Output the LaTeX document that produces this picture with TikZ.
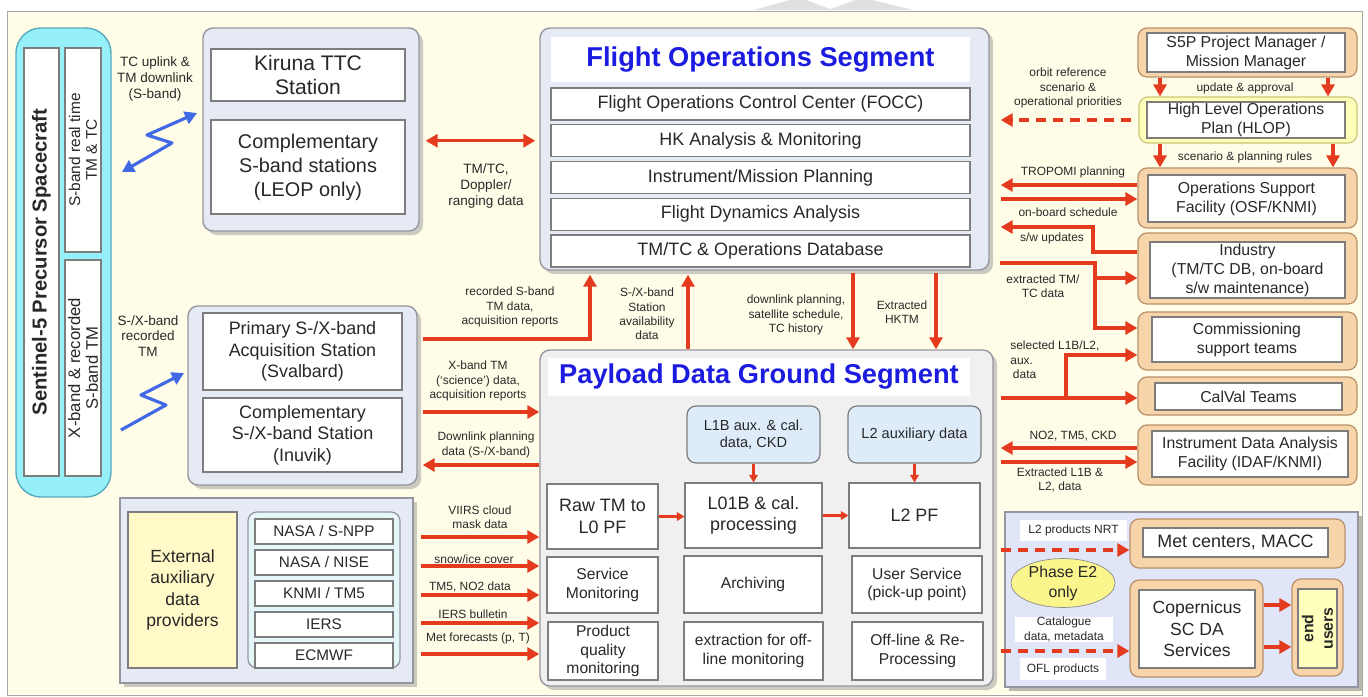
\documentclass[tikz,border=0pt]{standalone}
\usepackage{fontspec}
\setmainfont{Liberation Sans}
\usetikzlibrary{arrows.meta,positioning,shapes.geometric,shadows}

\definecolor{cream}{RGB}{255,253,232}
\definecolor{redc}{RGB}{228,58,30}
\definecolor{zapblue}{RGB}{65,105,230}
\definecolor{ttlblue}{RGB}{28,28,224}
\definecolor{txt}{RGB}{40,40,40}
\definecolor{grpfill}{RGB}{230,234,245}
\definecolor{grpline}{RGB}{150,150,160}
\definecolor{cellline}{RGB}{125,125,125}
\definecolor{pdfill}{RGB}{240,240,240}
\definecolor{tanfill}{RGB}{247,212,170}
\definecolor{tanline}{RGB}{185,145,105}
\definecolor{hlfill}{RGB}{255,255,185}
\definecolor{hlline}{RGB}{200,200,120}
\definecolor{scfill}{RGB}{150,240,250}
\definecolor{scline}{RGB}{90,170,190}
\definecolor{auxfill}{RGB}{222,236,250}
\definecolor{provfill}{RGB}{228,246,248}
\definecolor{extfill}{RGB}{255,250,200}
\definecolor{e2fill}{RGB}{224,230,248}
\definecolor{ellfill}{RGB}{250,245,140}
\definecolor{endfill}{RGB}{255,255,190}

\begin{document}
\begin{tikzpicture}[x=0.2mm,y=-0.2mm,>={Triangle[length=2.4mm,width=2.6mm]},
    sz/.style 2 args={minimum width=#1*0.2mm,minimum height=#2*0.2mm}]
  \tikzstyle{grp}=[draw=grpline,fill=grpfill,line width=0.8pt,rounded corners=2mm,inner sep=0pt,
    drop shadow={shadow xshift=0.8mm,shadow yshift=-0.8mm,fill=black!40,opacity=0.5}]
  \tikzstyle{cell}=[draw=cellline,fill=white,line width=0.7pt,inner sep=0pt,align=center,text=txt]
  \tikzstyle{tanbox}=[draw=tanline,fill=tanfill,line width=0.7pt,rounded corners=1.8mm,inner sep=0pt]
  \tikzstyle{ttl}=[fill=white,inner sep=0pt,text=ttlblue,font=\fontsize{15.5}{18}\selectfont\bfseries]
  \tikzstyle{row}=[cell,sz={419}{32},font=\fontsize{10.2}{12}\selectfont]
  \tikzstyle{prow}=[cell,sz={138}{25},font=\fontsize{8.7}{10}\selectfont]
  \tikzstyle{rbox}=[cell,font=\fontsize{9}{10.8}\selectfont]
  \tikzstyle{bigproc}=[cell,sz={134}{65},font=\fontsize{10.2}{12.3}\selectfont]
  \tikzstyle{proc}=[cell,font=\fontsize{8.9}{10.6}\selectfont]
  \tikzstyle{lbl}=[align=center,text=txt,inner sep=0pt,font=\fontsize{6.8}{8.2}\selectfont]
  \tikzstyle{lblm}=[lbl,font=\fontsize{7.7}{9}\selectfont]
  \tikzstyle{arr}=[draw=redc,line width=1.8pt,->]
  \tikzstyle{sarr}=[draw=redc,line width=1.4pt,-{Triangle[length=1.5mm,width=1.7mm]}]
  \tikzstyle{darr}=[arr,dash pattern=on 2mm off 1.4mm]
  \tikzstyle{zap}=[draw=zapblue,line width=1.8pt,line join=round]
  \useasboundingbox (0,0) rectangle (1368,696);
  % frame and the grey mark above it
  \fill[black!12] (754,10) -- (790,0) -- (872,0) -- (913,10) -- cycle;
  \fill[white] (806,0) -- (830,9) -- (855,0) -- cycle;
  \draw[black!35,fill=cream] (7,11) rectangle (1362,695);

  % spacecraft
  \node[draw=scline,fill=scfill,line width=0.8pt,rounded corners=5mm,sz={95}{469}] (sc) at (63.5,262.5) {};
  \node[cell,rotate=90,sz={428}{35},font=\fontsize{11.5}{13}\selectfont\bfseries] (scname) at (41.5,262) {Sentinel-5 Precursor Spacecraft};
  \node[cell,rotate=90,sz={204}{36},font=\fontsize{8.8}{9.6}\selectfont] (scs) at (83,150) {S-band real time\\TM \& TC};
  \node[cell,rotate=90,sz={216}{36},font=\fontsize{9.5}{10}\selectfont] (scx) at (83,368) {X-band \& recorded\\S-band TM};

  % TTC stations
  \node[grp,sz={216}{203}] (kgrp) at (311,129.5) {};
  \node[cell,sz={194}{52},font=\fontsize{12}{14}\selectfont] (kiruna) at (308,75) {Kiruna TTC\\Station};
  \node[cell,sz={194}{94},font=\fontsize{11.3}{13.6}\selectfont] (comps) at (308,167) {Complementary\\S-band stations\\(LEOP only)};
  \coordinate (z1a) at (122,172);
  \coordinate (z1b) at (197,113);
  \draw[zap,<->] (z1a) -- (172,143) -- (147,135) -- (z1b);
  \node[lblm] (uplnk) at (155,79) {TC uplink \&\\TM downlink\\(S-band)};

  % acquisition stations
  \node[grp,sz={229}{179}] (sgrp) at (302.5,395.5) {};
  \node[cell,sz={199}{77},font=\fontsize{10.2}{12.2}\selectfont] (sval) at (302.5,351.5) {Primary S-/X-band\\Acquisition Station\\(Svalbard)};
  \node[cell,sz={199}{74},font=\fontsize{10.2}{12.2}\selectfont] (inuv) at (302.5,435) {Complementary\\S-/X-band Station\\(Inuvik)};
  \coordinate (z2a) at (121,430);
  \coordinate (z2b) at (184,373);
  \draw[zap,->] (z2a) -- (166,405) -- (141,395) -- (z2b);
  \node[lblm] (rectm) at (148,336) {S-/X-band\\recorded\\TM};

  % flight operations segment
  \node[grp,sz={449}{242}] (fos) at (764.5,149) {};
  \node[ttl,sz={419}{45}] (fostt) at (760.5,59.5) {Flight Operations Segment};
  \node[row] (focc) at (760.5,104) {Flight Operations Control Center (FOCC)};
  \node[row,below=0.7mm of focc] (hkam) {HK Analysis \& Monitoring};
  \node[row,below=0.7mm of hkam] (impl) {Instrument/Mission Planning};
  \node[row,below=0.7mm of impl] (fdan) {Flight Dynamics Analysis};
  \node[row,below=0.7mm of fdan] (opdb) {TM/TC \& Operations Database};
  \draw[arr,<->,shorten <=1.2mm,shorten >=0.8mm] (kgrp.east |- hkam) -- (fos.west |- hkam);
  \node[lblm] (ttcdat) at (486,186) {TM/TC,\\Doppler/\\ranging data};

  % payload data ground segment
  \node[grp,fill=pdfill,sz={453}{336}] (pdgs) at (766.5,518) {};
  \node[ttl,sz={422}{38}] (pdtt) at (759,377) {Payload Data Ground Segment};
  \node[cell,fill=auxfill,rounded corners=1.8mm,sz={133}{57},font=\fontsize{8.3}{10}\selectfont] (l1aux) at (753.5,434.5) {L1B aux. \& cal.\\data, CKD};
  \node[cell,fill=auxfill,rounded corners=1.8mm,sz={133}{57},font=\fontsize{8.3}{10}\selectfont] (l2aux) at (914.5,434.5) {L2 auxiliary data};
  \node[bigproc,sz={111}{65}] (raw) at (602.5,516.5) {Raw TM to\\L0 PF};
  \node[bigproc,sz={137}{65}] (l01b) at (753.5,515.5) {L01B \& cal.\\processing};
  \node[bigproc,sz={131}{65}] (l2pf) at (914.5,515.5) {L2 PF};
  \node[proc,sz={111}{56}] (svcmon) at (602.5,585) {Service\\Monitoring};
  \node[proc,sz={138}{57}] (archv) at (753,584.5) {Archiving};
  \node[proc,sz={130}{57}] (usrsvc) at (917,584.5) {User Service\\(pick-up point)};
  \node[proc,sz={110}{58}] (pqmon) at (603,651) {Product\\quality\\monitoring};
  \node[proc,sz={139}{58}] (extrm) at (753.5,651) {extraction for off-\\line monitoring};
  \node[proc,sz={131}{58}] (offrp) at (917.5,651) {Off-line \& Re-\\Processing};
  \draw[sarr] (l1aux) -- (l01b);
  \draw[sarr] (l2aux) -- (l2pf);
  \draw[sarr] (raw.east) -- (l01b.west |- raw.east);
  \draw[sarr] (l01b.east) -- (l2pf.west |- l01b.east);

  % links between stations and segments
  \draw[arr,shorten <=1mm,shorten >=0.8mm] (sgrp.east |- 0,339) -| (fos.south -| 590,0);
  \draw[arr,shorten >=0.8mm] (pdgs.north -| 688,0) -- (fos.south -| 688,0);
  \draw[arr,shorten <=0.5mm] (fos.south -| 853,0) -- (pdgs.north -| 853,0);
  \draw[arr,shorten <=0.5mm] (fos.south -| 936,0) -- (pdgs.north -| 936,0);
  \draw[arr,shorten <=1mm] (sgrp.east |- 0,412) -- (pdgs.west |- 0,412);
  \draw[arr,shorten >=1mm] (pdgs.west |- 0,465) -- (sgrp.east |- 0,465);
  \node[lbl] (recsb) at (510,307) {recorded S-band\\TM data,\\acquisition reports};
  \node[lbl] (avail) at (647,314) {S-/X-band\\Station\\availability\\data};
  \node[lbl] (dlsch) at (796,315) {downlink planning,\\satellite schedule,\\TC history};
  \node[lbl] (hktm) at (902,312) {Extracted\\HKTM};
  \node[lbl] (xbtm) at (478,381) {X-band TM\\(`science') data,\\acquisition reports};
  \node[lbl] (dlpd) at (486,445) {Downlink planning\\data (S-/X-band)};

  % external auxiliary data providers
  \node[grp,rounded corners=0pt,sz={293}{185}] (egrp) at (266.5,590.5) {};
  \node[cell,fill=extfill,sz={109}{156},font=\fontsize{10}{12.3}\selectfont] (extp) at (182.5,590) {External\\auxiliary\\data\\providers};
  \node[draw=grpline,fill=provfill,line width=0.7pt,rounded corners=1.8mm,sz={152}{156}] (prov) at (324,590) {};
  \node[prow] (snpp) at (324,531.5) {NASA / S-NPP};
  \node[prow,below=0.95mm of snpp] (nise) {NASA / NISE};
  \node[prow,below=0.95mm of nise] (knmi) {KNMI / TM5};
  \node[prow,below=0.95mm of knmi] (iers) {IERS};
  \node[prow,below=0.95mm of iers] (ecmwf) {ECMWF};
  \draw[arr,shorten <=1.4mm] (egrp.east |- 0,537) -- (pdgs.west |- 0,537);
  \draw[arr,shorten <=1.4mm] (egrp.east |- 0,566) -- (pdgs.west |- 0,566);
  \draw[arr,shorten <=1.4mm] (egrp.east |- 0,595) -- (pdgs.west |- 0,595);
  \draw[arr,shorten <=1.4mm] (egrp.east |- 0,623) -- (pdgs.west |- 0,623);
  \draw[arr,shorten <=1.4mm] (egrp.east |- 0,654) -- (pdgs.west |- 0,654);
  \node[lbl] (viirs) at (480,517) {VIIRS cloud\\mask data};
  \node[lbl] (snow) at (474,559) {snow/ice cover};
  \node[lbl] (tmno) at (470,587) {TM5, NO2 data};
  \node[lbl] (iersb) at (473,614) {IERS bulletin};
  \node[lbl] (metf) at (478,638) {Met forecasts (p, T)};

  % mission management and support facilities
  \node[tanbox,sz={219}{49}] (pmo) at (1247.5,52.5) {};
  \node[rbox,sz={198}{39}] (pm) at (1246,52.5) {S5P Project Manager /\\Mission Manager};
  \node[tanbox,draw=hlline,fill=hlfill,sz={218}{46}] (hlopo) at (1248,120) {};
  \node[rbox,sz={198}{36}] (hlop) at (1246,120) {High Level Operations\\Plan (HLOP)};
  \node[tanbox,sz={219}{60}] (osfo) at (1247.5,198) {};
  \node[rbox,sz={197}{47}] (osf) at (1246.5,198.5) {Operations Support\\Facility (OSF/KNMI)};
  \node[tanbox,sz={219}{71}] (indo) at (1247.5,268.5) {};
  \node[rbox,sz={195}{56}] (ind) at (1247.5,270) {Industry\\(TM/TC DB, on-board\\s/w maintenance)};
  \node[tanbox,sz={219}{58}] (como) at (1247.5,341) {};
  \node[rbox,sz={190}{45}] (com) at (1247,339.5) {Commissioning\\support teams};
  \node[tanbox,sz={219}{38}] (calo) at (1247.5,396) {};
  \node[rbox,sz={187}{27}] (cal) at (1248.5,396.5) {CalVal Teams};
  \node[tanbox,sz={219}{60}] (idafo) at (1247.5,455) {};
  \node[rbox,sz={196}{46}] (idaf) at (1250,454) {Instrument Data Analysis\\Facility (IDAF/KNMI)};
  \draw[arr] (pmo.south -| 1160,0) -- (hlopo.north -| 1160,0);
  \draw[arr] (pmo.south -| 1328,0) -- (hlopo.north -| 1328,0);
  \draw[arr] (hlopo.south -| 1160,0) -- (osfo.north -| 1160,0);
  \draw[arr] (hlopo.south -| 1333,0) -- (osfo.north -| 1333,0);
  \node[lbl] (updap) at (1245,88) {update \& approval};
  \node[lbl] (scnpl) at (1245,157) {scenario \& planning rules};

  \draw[darr,shorten <=1.4mm,shorten >=2.2mm] (hlopo.west) -- (fos.east |- hlopo.west);
  \draw[arr,shorten >=2.2mm] (osfo.west |- 0,185) -- (fos.east |- 0,185);
  \draw[arr,shorten <=2.2mm] (fos.east |- 0,199) -- (osfo.west |- 0,199);
  \draw[arr,shorten >=2.2mm] (indo.west |- 0,252) -| (1093,227) -- (fos.east |- 0,227);
  \draw[arr,shorten <=2mm] (fos.east |- 0,263) -- (1095,263) |- (como.west |- 0,328);
  \draw[arr] (1095,278) -- (indo.west |- 0,278);
  \draw[arr,shorten <=1.4mm] (pdgs.east |- 0,398) -- (calo.west |- 0,398);
  \draw[arr] (1066,398) |- (como.west |- 0,355);
  \draw[arr,shorten >=1.4mm] (idafo.west |- 0,448) -- (pdgs.east |- 0,448);
  \draw[arr,shorten <=1.4mm] (pdgs.east |- 0,462) -- (idafo.west |- 0,462);
  \node[lbl] (orbref) at (1068,88) {orbit reference\\scenario \&\\operational priorities};
  \node[lbl] (tropo) at (1073,172) {TROPOMI planning};
  \node[lbl] (obsch) at (1068,212) {on-board schedule};
  \node[lbl] (swup) at (1052,238) {s/w updates};
  \node[lbl] (exttm) at (1043,286) {extracted TM/\\TC data};
  \node[lbl,align=left,anchor=west] (sell) at (1010,360) {selected L1B/L2,\\aux.\\\hspace*{1.5pt}data};
  \node[lbl] (notm) at (1073,436) {NO2, TM5, CKD};
  \node[lbl] (extl) at (1060,480) {Extracted L1B \&\\L2, data};

  % phase E2 users
  \node[draw=grpline,fill=e2fill,line width=0.8pt,sz={353}{175},
    drop shadow={shadow xshift=0.8mm,shadow yshift=-0.8mm,fill=black!45,opacity=0.6}] (e2) at (1181.5,599.5) {};
  \node[tanbox,sz={215}{49}] (meto) at (1237.5,543.5) {};
  \node[cell,sz={185}{29},font=\fontsize{10.2}{12}\selectfont] (met) at (1235.5,542.5) {Met centers, MACC};
  \node[tanbox,sz={133}{97}] (cpo) at (1196.5,628.5) {};
  \node[cell,sz={116}{78},font=\fontsize{10}{12.2}\selectfont] (cpds) at (1197,629) {Copernicus\\SC DA\\Services};
  \node[tanbox,sz={51}{97}] (endo) at (1317.5,627.5) {};
  \node[cell,fill=endfill,rotate=90,sz={79}{39},font=\fontsize{9}{11}\selectfont\bfseries] (endu) at (1317.5,628.5) {end\\users};
  \node[ellipse,draw=black!45,fill=ellfill,sz={104}{44},inner sep=0pt,align=center,text=txt,font=\fontsize{9}{11.3}\selectfont] (phase) at (1063,583) {Phase E2\\only};
  \node[lbl,fill=white,sz={107}{21}] (nrt) at (1073.5,530.5) {L2 products NRT};
  \node[lbl,fill=white,sz={98}{25}] (catl) at (1064,629.5) {Catalogue\\data, metadata};
  \node[lbl,fill=white,sz={86}{22}] (ofl) at (1063,669) {OFL products};
  \draw[darr,shorten <=1.4mm] (pdgs.east |- 0,550) -- (meto.west |- 0,550);
  \draw[darr,shorten <=1.4mm] (pdgs.east |- 0,651) -- (cpo.west |- 0,651);
  \draw[arr] (cpo.east |- 0,605) -- (endo.west |- 0,605);
  \draw[arr] (cpo.east |- 0,647) -- (endo.west |- 0,647);
\end{tikzpicture}
\end{document}
